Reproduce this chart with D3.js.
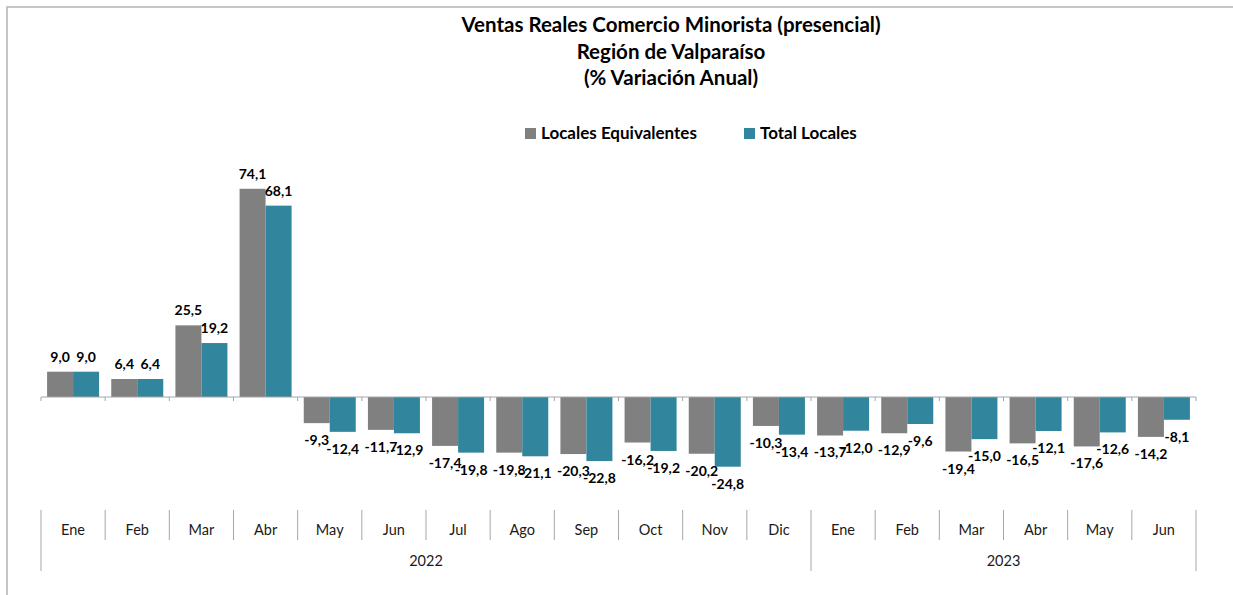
<!DOCTYPE html>
<html>
<head>
  <script src="https://d3js.org/d3.v7.min.js"></script>
  <style>
    body {
  margin: 0;
  background-color: #ffffff;
  font-family: 'Lato', 'Liberation Sans', sans-serif;
}

svg {
  display: block;
}

.title {
  font-size: 20.5px;
  font-weight: bold;
  fill: #000000;
}

.legend text {
  font-size: 17px;
  font-weight: bold;
  fill: #000000;
}

.value-label {
  font-size: 14px;
  font-weight: bold;
  fill: #000000;
}

.cat-label {
  font-size: 14.5px;
  fill: #1a1a1a;
}
  </style>
</head>
<body>

<script>
// Months shown on the category axis, with their year group.
const months = ["Ene", "Feb", "Mar", "Abr", "May", "Jun", "Jul", "Ago", "Sep", "Oct", "Nov", "Dic",
                "Ene", "Feb", "Mar", "Abr", "May", "Jun"];
const years = ["2022", "2023"];
const monthsPerYear = [12, 6];

// Series names and values (% variación anual).
const seriesNames = ["Locales Equivalentes", "Total Locales"];
const localesEquivalentes = [9.0, 6.4, 25.5, 74.1, -9.3, -11.7, -17.4, -19.8, -20.3, -16.2, -20.2, -10.3,
                             -13.7, -12.9, -19.4, -16.5, -17.6, -14.2];
const totalLocales = [9.0, 6.4, 19.2, 68.1, -12.4, -12.9, -19.8, -21.1, -22.8, -19.2, -24.8, -13.4,
                      -12.0, -9.6, -15.0, -12.1, -12.6, -8.1];

const titleLines = ["Ventas Reales Comercio Minorista (presencial)", "Región de Valparaíso", "(% Variación Anual)"];

const colors = ["#808080", "#31859c"];

const width = 1233;
const height = 595;

// Build rows for the bars.
const rows = months.map((m, i) => ({
  index: i,
  month: m,
  values: [localesEquivalentes[i], totalLocales[i]]
}));

const svg = d3.select("body")
  .append("svg")
  .attr("width", width)
  .attr("height", height);

// Chart frame (cut at the right and bottom edges like the original).
svg.append("path")
  .attr("d", "M7,595 L7,7 L1233,7")
  .attr("fill", "none")
  .attr("stroke", "#b3b3b3")
  .attr("stroke-width", 1.5);

// Scales.
const x0 = d3.scaleBand()
  .domain(d3.range(months.length))
  .range([41, 1196])
  .paddingInner(0)
  .paddingOuter(0);

const x1 = d3.scaleBand()
  .domain([0, 1])
  .range([0, x0.bandwidth()])
  .paddingInner(0)
  .paddingOuter(0.234);

const y = d3.scaleLinear()
  .domain([-30, 80])
  .range([397 + 30 * 2.81, 397 - 80 * 2.81]);

// Title.
svg.append("g")
  .selectAll("text")
  .data(titleLines)
  .enter()
  .append("text")
  .attr("class", "title")
  .attr("x", 671)
  .attr("y", (d, i) => 32 + i * 26.5)
  .attr("text-anchor", "middle")
  .text(d => d);

// Legend.
const legendPos = [525, 744];
const legend = svg.append("g")
  .attr("class", "legend")
  .selectAll("g")
  .data(seriesNames)
  .enter()
  .append("g")
  .attr("transform", (d, i) => `translate(${legendPos[i]},128)`);

legend.append("rect")
  .attr("width", 11)
  .attr("height", 11)
  .attr("fill", (d, i) => colors[i]);

legend.append("text")
  .attr("x", 16)
  .attr("y", 11)
  .text(d => d);

// Bars.
const groups = svg.append("g")
  .selectAll("g")
  .data(rows)
  .enter()
  .append("g")
  .attr("transform", d => `translate(${x0(d.index)},0)`);

groups.selectAll("rect")
  .data(d => d.values.map((v, k) => ({ v, k })))
  .enter()
  .append("rect")
  .attr("x", d => x1(d.k))
  .attr("y", d => y(Math.max(0, d.v)))
  .attr("width", x1.bandwidth())
  .attr("height", d => Math.abs(y(d.v) - y(0)))
  .attr("fill", d => colors[d.k]);

// Value labels.
const fmt = v => d3.format(".1f")(v).replace(".", ",").replace("−", "-");
groups.selectAll("text")
  .data(d => d.values.map((v, k) => ({ v, k })))
  .enter()
  .append("text")
  .attr("class", "value-label")
  .attr("x", d => x1(d.k) + x1.bandwidth() / 2)
  .attr("y", d => d.v >= 0 ? y(d.v) - 10 : y(d.v) + 22)
  .attr("text-anchor", "middle")
  .text(d => fmt(d.v));

// Baseline with small tick marks.
svg.append("line")
  .attr("x1", 41)
  .attr("x2", 1196)
  .attr("y1", y(0))
  .attr("y2", y(0))
  .attr("stroke", "#a6a6a6")
  .attr("stroke-width", 1);

svg.append("g")
  .selectAll("line")
  .data(d3.range(months.length + 1))
  .enter()
  .append("line")
  .attr("x1", i => i < months.length ? x0(i) : 1196)
  .attr("x2", i => i < months.length ? x0(i) : 1196)
  .attr("y1", y(0))
  .attr("y2", y(0) + 4)
  .attr("stroke", "#a6a6a6");

// Multi-level category axis: months then years.
const boundaries = d3.range(months.length + 1).map(i => i < months.length ? x0(i) : 1196);
let yearStarts = [0];
monthsPerYear.forEach((n, i) => yearStarts.push(yearStarts[i] + n));

svg.append("g")
  .selectAll("line")
  .data(d3.range(months.length + 1))
  .enter()
  .append("line")
  .attr("x1", i => boundaries[i])
  .attr("x2", i => boundaries[i])
  .attr("y1", 510)
  .attr("y2", i => yearStarts.includes(i) ? 571 : 540)
  .attr("stroke", "#a6a6a6")
  .attr("stroke-width", 1);

svg.append("g")
  .selectAll("text")
  .data(rows)
  .enter()
  .append("text")
  .attr("class", "cat-label")
  .attr("x", d => x0(d.index) + x0.bandwidth() / 2)
  .attr("y", 535)
  .attr("text-anchor", "middle")
  .text(d => d.month);

svg.append("g")
  .selectAll("text")
  .data(years)
  .enter()
  .append("text")
  .attr("class", "cat-label")
  .attr("x", (d, i) => (boundaries[yearStarts[i]] + boundaries[yearStarts[i + 1]]) / 2)
  .attr("y", 566)
  .attr("text-anchor", "middle")
  .text(d => d);
</script>
</body>
</html>
